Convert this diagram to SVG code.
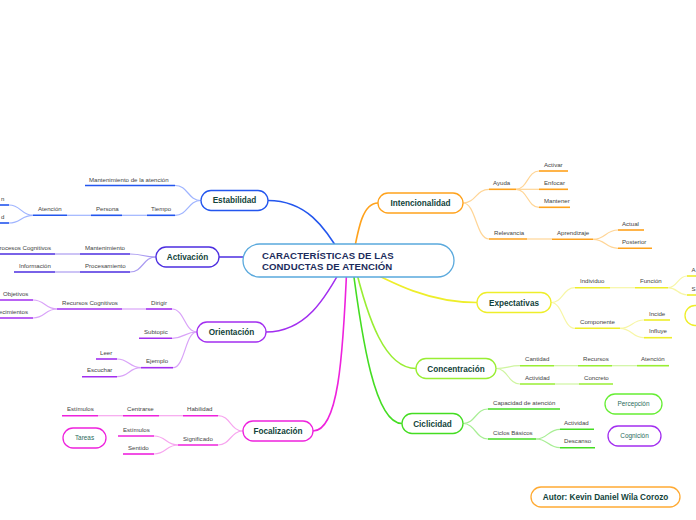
<svg xmlns="http://www.w3.org/2000/svg" width="696" height="520" viewBox="0 0 696 520">
<style>
.bg{fill:#ffffff}
.t{font-family:"Liberation Sans",Arial,sans-serif;font-size:6.1px;fill:#444444}
.te{font-family:"Liberation Sans",Arial,sans-serif;font-size:6.1px;fill:#444444;text-anchor:end}
.nt{font-family:"Liberation Sans",Arial,sans-serif;font-weight:bold;font-size:8.2px;fill:#12433a;text-anchor:middle}
.ft{font-family:"Liberation Sans",Arial,sans-serif;font-size:6.4px;fill:#2a6b5c;text-anchor:middle}
.ct{font-family:"Liberation Sans",Arial,sans-serif;font-weight:bold;font-size:9.6px;fill:#1c2c5c;letter-spacing:0.1px}
.box{fill:#ffffff;stroke-width:1.3}
.u{stroke-width:1.6;fill:none}
.m{fill:none;stroke-width:1.6}
.l{fill:none;stroke-width:1.2}
.blue{stroke:#2356ee}.lblue{stroke:#9fb4ff}
.ind{stroke:#4c2ee0}.lind{stroke:#aa9bf1}
.pur{stroke:#a22ef0}.lpur{stroke:#d9a3f8}
.mag{stroke:#ee22dd}.lmag{stroke:#f7a5ef}
.ora{stroke:#ffa21c}.lora{stroke:#ffd596}
.yel{stroke:#eeee2a}.lyel{stroke:#f7f6a6}
.lim{stroke:#99ee33}.llim{stroke:#cff5a0}
.grn{stroke:#44dd22}.lgrn{stroke:#a8ee95}
</style>
<rect class="bg" x="0" y="0" width="696" height="520"/>
<g id="connectors">
  <path class="m blue" d="M268,200.5 C305,200.5 325,225 345,262"/>
  <path class="m ind" d="M219,257 H300"/>
  <path class="m pur" d="M266,332 C305,332 325,300 345,262"/>
  <path class="m mag" d="M313,431 C338,431 343,360 347,262"/>
  <path class="m ora" d="M378,203 C362,203 358,230 352,262"/>
  <path class="m yel" d="M477,302.5 C430,302.5 395,285 352,262"/>
  <path class="m lim" d="M416,368.5 C385,368.5 368,320 354,262"/>
  <path class="m grn" d="M402,423.5 C375,423.5 362,340 352,262"/>

  <path class="l lblue" d="M175,185.5 C188,185.5 188,200.5 201,200.5"/>
  <path class="l lblue" d="M175,215.3 C188,215.3 188,200.5 201,200.5"/>
  <path class="l lblue" d="M122,215.3 H147"/>
  <path class="l lblue" d="M67,215.3 H91"/>
  <path class="l lblue" d="M9,205 C21,205 21,215.3 33,215.3"/>
  <path class="l lblue" d="M9,223 C21,223 21,215.3 33,215.3"/>

  <path class="l lind" d="M130,254 C143,254 143,257 156,257"/>
  <path class="l lind" d="M130,272 C143,272 143,257 156,257"/>
  <path class="l lind" d="M55,254 H80"/>
  <path class="l lind" d="M55,272 H80"/>

  <path class="l lpur" d="M122,309 H146"/>
  <path class="l lpur" d="M33,300 C45,300 45,309 57,309"/>
  <path class="l lpur" d="M33,318 C45,318 45,309 57,309"/>
  <path class="l lpur" d="M172,309 C184.5,309 184.5,332 197,332"/>
  <path class="l lpur" d="M172,338.3 C184.5,338.3 184.5,332 197,332"/>
  <path class="l lpur" d="M173,367.7 C185,367.7 185,332 197,332"/>
  <path class="l lpur" d="M117,359 C129,359 129,367.7 141,367.7"/>
  <path class="l lpur" d="M117,376.7 C129,376.7 129,367.7 141,367.7"/>

  <path class="l lmag" d="M98,415.7 H123"/>
  <path class="l lmag" d="M159,415.7 H183"/>
  <path class="l lmag" d="M218,415.7 C230.5,415.7 230.5,431 243,431"/>
  <path class="l lmag" d="M218,445 C230.5,445 230.5,431 243,431"/>
  <path class="l lmag" d="M154,436 C166,436 166,445 178,445"/>
  <path class="l lmag" d="M154,454 C166,454 166,445 178,445"/>

  <path class="l lora" d="M463,203 C476,203 476,189.3 489,189.3"/>
  <path class="l lora" d="M463,203 C476,203 476,239 489,239"/>
  <path class="l lora" d="M516,189.3 C527.5,189.3 527.5,171 539,171"/>
  <path class="l lora" d="M516,189.3 H539"/>
  <path class="l lora" d="M516,189.3 C527.5,189.3 527.5,207.3 539,207.3"/>
  <path class="l lora" d="M527,239 H552"/>
  <path class="l lora" d="M593,239.3 C605.5,239.3 605.5,230 618,230"/>
  <path class="l lora" d="M593,239.3 C605.5,239.3 605.5,248.3 618,248.3"/>

  <path class="l lyel" d="M551,302.5 C563,302.5 563,287.7 575,287.7"/>
  <path class="l lyel" d="M551,302.5 C563,302.5 563,328.3 575,328.3"/>
  <path class="l lyel" d="M610,287.7 H635"/>
  <path class="l lyel" d="M668,287.7 C677.5,287.7 677.5,276 687,276"/>
  <path class="l lyel" d="M668,287.7 C677.5,287.7 677.5,295 687,295"/>
  <path class="l lyel" d="M620,328.3 C632,328.3 632,320 644,320"/>
  <path class="l lyel" d="M620,328.3 C632,328.3 632,337.7 644,337.7"/>

  <path class="l llim" d="M496,368.5 C508,368.5 508,365.7 520,365.7"/>
  <path class="l llim" d="M496,368.5 C508,368.5 508,384 520,384"/>
  <path class="l llim" d="M554,365.7 H578"/>
  <path class="l llim" d="M612,365.7 H637"/>
  <path class="l llim" d="M555,384 H579"/>

  <path class="l lgrn" d="M463,423.5 C475.5,423.5 475.5,409 488,409"/>
  <path class="l lgrn" d="M463,423.5 C475.5,423.5 475.5,439 488,439"/>
  <path class="l lgrn" d="M536,439 C548,439 548,429.3 560,429.3"/>
  <path class="l lgrn" d="M536,439 C548,439 548,447.7 560,447.7"/>
</g>

<g id="central">
  <rect x="243" y="244" width="211" height="33" rx="16.5" fill="#ffffff" stroke="#5aa9dd" stroke-width="1.3"/>
  <text class="ct" x="262" y="258.5">CARACTERÍSTICAS DE LAS</text>
  <text class="ct" x="262" y="269.5">CONDUCTAS DE ATENCIÓN</text>
</g>

<g id="estabilidad"><rect class="box blue" x="201" y="190.5" width="67" height="20" rx="10"/><text class="nt" x="234.5" y="203.4">Estabilidad</text></g>
<g id="est-mant"><line class="u blue" x1="85" y1="185.5" x2="175" y2="185.5"/><text class="t" x="89" y="181.5">Mantenimiento de la atención</text></g>
<g id="est-tiempo"><line class="u blue" x1="147" y1="215.3" x2="175" y2="215.3"/><text class="t" x="151" y="211">Tiempo</text></g>
<g id="est-persona"><line class="u blue" x1="91" y1="215.3" x2="122" y2="215.3"/><text class="t" x="96" y="211">Persona</text></g>
<g id="est-atencion"><line class="u blue" x1="33" y1="215.3" x2="67" y2="215.3"/><text class="t" x="38" y="211">Atención</text></g>
<g id="est-c1"><line class="u blue" x1="-5" y1="205" x2="9" y2="205"/><text class="te" x="4.5" y="201">n</text></g>
<g id="est-c2"><line class="u blue" x1="-5" y1="223" x2="9" y2="223"/><text class="te" x="4.5" y="219">d</text></g>

<g id="activacion"><rect class="box ind" x="156" y="247" width="63" height="20" rx="10"/><text class="nt" x="187.5" y="260">Activación</text></g>
<g id="act-mant"><line class="u ind" x1="80" y1="254" x2="130" y2="254"/><text class="t" x="85" y="249.5">Mantenimiento</text></g>
<g id="act-proc"><line class="u ind" x1="80" y1="272" x2="130" y2="272"/><text class="t" x="85" y="267.5">Procesamiento</text></g>
<g id="act-pc"><line class="u ind" x1="-5" y1="254" x2="55" y2="254"/><text class="te" x="51" y="249.5">rocesos Cognitivos</text></g>
<g id="act-info"><line class="u ind" x1="14" y1="272" x2="55" y2="272"/><text class="t" x="19" y="267.5">Información</text></g>

<g id="orientacion"><rect class="box pur" x="197" y="322" width="69" height="20" rx="10"/><text class="nt" x="231.5" y="335">Orientación</text></g>
<g id="ori-dirigir"><line class="u pur" x1="146" y1="309" x2="172" y2="309"/><text class="t" x="151" y="304.5">Dirigir</text></g>
<g id="ori-rc"><line class="u pur" x1="57" y1="309" x2="122" y2="309"/><text class="t" x="62" y="304.5">Recursos Cognitivos</text></g>
<g id="ori-obj"><line class="u pur" x1="-5" y1="300" x2="33" y2="300"/><text class="t" x="3" y="295.5">Objetivos</text></g>
<g id="ori-con"><line class="u pur" x1="-5" y1="318" x2="33" y2="318"/><text class="te" x="28" y="313.5">ecimientos</text></g>
<g id="ori-sub"><line class="u pur" x1="139" y1="338.3" x2="172" y2="338.3"/><text class="t" x="144" y="334">Subtopic</text></g>
<g id="ori-ej"><line class="u pur" x1="141" y1="367.7" x2="173" y2="367.7"/><text class="t" x="146" y="363">Ejemplo</text></g>
<g id="ori-leer"><line class="u pur" x1="96" y1="359" x2="117" y2="359"/><text class="t" x="100" y="354.5">Leer</text></g>
<g id="ori-esc"><line class="u pur" x1="82" y1="376.7" x2="117" y2="376.7"/><text class="t" x="87" y="372">Escuchar</text></g>

<g id="focalizacion"><rect class="box mag" x="243" y="421" width="70" height="20" rx="10"/><text class="nt" x="278" y="434">Focalización</text></g>
<g id="foc-hab"><line class="u mag" x1="183" y1="415.7" x2="218" y2="415.7"/><text class="t" x="187" y="411">Habilidad</text></g>
<g id="foc-cen"><line class="u mag" x1="123" y1="415.7" x2="159" y2="415.7"/><text class="t" x="127" y="411">Centrarse</text></g>
<g id="foc-est1"><line class="u mag" x1="62" y1="415.7" x2="98" y2="415.7"/><text class="t" x="67" y="411">Estímulos</text></g>
<g id="foc-sig"><line class="u mag" x1="178" y1="445" x2="218" y2="445"/><text class="t" x="183" y="440.5">Significado</text></g>
<g id="foc-est2"><line class="u mag" x1="118" y1="436" x2="154" y2="436"/><text class="t" x="123" y="431.5">Estímulos</text></g>
<g id="foc-sen"><line class="u mag" x1="123" y1="454" x2="154" y2="454"/><text class="t" x="128" y="449.5">Sentido</text></g>
<g id="tareas"><rect class="box mag" x="63" y="428" width="43" height="20" rx="10"/><text class="ft" x="84.5" y="440.3">Tareas</text></g>

<g id="intencionalidad"><rect class="box ora" x="378" y="193" width="85" height="20" rx="10"/><text class="nt" x="420.5" y="206">Intencionalidad</text></g>
<g id="int-ayuda"><line class="u ora" x1="489" y1="189.3" x2="516" y2="189.3"/><text class="t" x="493" y="185">Ayuda</text></g>
<g id="int-act"><line class="u ora" x1="539" y1="171" x2="568" y2="171"/><text class="t" x="544" y="166.5">Activar</text></g>
<g id="int-enf"><line class="u ora" x1="539" y1="189.3" x2="568" y2="189.3"/><text class="t" x="544" y="185">Enfocar</text></g>
<g id="int-man"><line class="u ora" x1="539" y1="207.3" x2="570" y2="207.3"/><text class="t" x="544" y="203">Mantener</text></g>
<g id="int-rel"><line class="u ora" x1="489" y1="239" x2="527" y2="239"/><text class="t" x="494" y="234.5">Relevancia</text></g>
<g id="int-apr"><line class="u ora" x1="552" y1="239.3" x2="593" y2="239.3"/><text class="t" x="557" y="234.5">Aprendizaje</text></g>
<g id="int-actual"><line class="u ora" x1="618" y1="230" x2="644" y2="230"/><text class="t" x="622" y="225.5">Actual</text></g>
<g id="int-post"><line class="u ora" x1="618" y1="248.3" x2="652" y2="248.3"/><text class="t" x="622" y="244">Posterior</text></g>

<g id="expectativas"><rect class="box yel" x="477" y="292.5" width="74" height="20" rx="10"/><text class="nt" x="514" y="305.5">Expectativas</text></g>
<g id="exp-ind"><line class="u yel" x1="575" y1="287.7" x2="610" y2="287.7"/><text class="t" x="580" y="283">Individuo</text></g>
<g id="exp-fun"><line class="u yel" x1="635" y1="287.7" x2="668" y2="287.7"/><text class="t" x="640" y="283">Función</text></g>
<g id="exp-a"><line class="u yel" x1="687" y1="276" x2="700" y2="276"/><text class="t" x="691.5" y="271.5">A</text></g>
<g id="exp-s"><line class="u yel" x1="687" y1="295" x2="700" y2="295"/><text class="t" x="691.5" y="290.5">S</text></g>
<g id="exp-comp"><line class="u yel" x1="575" y1="328.3" x2="620" y2="328.3"/><text class="t" x="580" y="324">Componente</text></g>
<g id="exp-inc"><line class="u yel" x1="644" y1="320" x2="670" y2="320"/><text class="t" x="649" y="315.5">Incide</text></g>
<g id="exp-inf"><line class="u yel" x1="644" y1="337.7" x2="672" y2="337.7"/><text class="t" x="649" y="333">Influye</text></g>
<g id="exp-node"><rect class="box yel" x="685" y="305.5" width="40" height="20" rx="10"/></g>

<g id="concentracion"><rect class="box lim" x="416" y="358.5" width="80" height="20" rx="10"/><text class="nt" x="456" y="371.5">Concentración</text></g>
<g id="con-cant"><line class="u lim" x1="520" y1="365.7" x2="554" y2="365.7"/><text class="t" x="525" y="361">Cantidad</text></g>
<g id="con-rec"><line class="u lim" x1="578" y1="365.7" x2="612" y2="365.7"/><text class="t" x="583" y="361">Recursos</text></g>
<g id="con-at"><line class="u lim" x1="637" y1="365.7" x2="669" y2="365.7"/><text class="t" x="641" y="361">Atención</text></g>
<g id="con-act"><line class="u lim" x1="520" y1="384" x2="555" y2="384"/><text class="t" x="525" y="379.5">Actividad</text></g>
<g id="con-conc"><line class="u lim" x1="579" y1="384" x2="613" y2="384"/><text class="t" x="584" y="379.5">Concreto</text></g>

<g id="ciclicidad"><rect class="box grn" x="402" y="413.5" width="61" height="20" rx="10"/><text class="nt" x="432.5" y="426.5">Ciclicidad</text></g>
<g id="cic-cap"><line class="u grn" x1="488" y1="409" x2="560" y2="409"/><text class="t" x="493" y="404.5">Capacidad de atención</text></g>
<g id="cic-cb"><line class="u grn" x1="488" y1="439" x2="536" y2="439"/><text class="t" x="493" y="434.5">Ciclos Básicos</text></g>
<g id="cic-act"><line class="u grn" x1="560" y1="429.3" x2="594" y2="429.3"/><text class="t" x="564" y="425">Actividad</text></g>
<g id="cic-des"><line class="u grn" x1="560" y1="447.7" x2="595" y2="447.7"/><text class="t" x="564" y="443">Descanso</text></g>

<g id="percepcion"><rect class="box" stroke="#66ee33" x="605" y="394" width="57" height="20" rx="10"/><text class="ft" x="633.5" y="406.3">Percepción</text></g>
<g id="cognicion"><rect class="box pur" x="608" y="426" width="53" height="20" rx="10"/><text class="ft" x="634.5" y="438.3">Cognición</text></g>
<g id="autor"><rect class="box" stroke="#ffaa33" x="531" y="487" width="149" height="20" rx="10"/><text class="nt" x="605.5" y="500">Autor: Kevin Daniel Wila Corozo</text></g>
</svg>
